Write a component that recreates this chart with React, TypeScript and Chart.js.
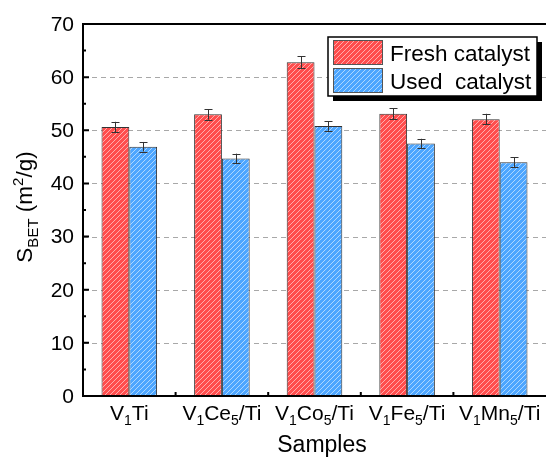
import React, { useEffect, useRef } from "react";
import { Chart, registerables } from "chart.js";

Chart.register(...registerables);

const categories = ["V_{1}Ti", "V_{1}Ce_{5}/Ti", "V_{1}Co_{5}/Ti", "V_{1}Fe_{5}/Ti", "V_{1}Mn_{5}/Ti"];
const freshValues = [50.6, 53.0, 62.8, 53.1, 52.1];
const usedValues = [46.9, 44.7, 50.8, 47.5, 44.0];
const freshErrors = [1.0, 1.0, 1.1, 1.0, 1.0];
const usedErrors = [0.9, 0.9, 0.9, 0.9, 0.9];
const yTicks = [0, 10, 20, 30, 40, 50, 60, 70];
const seriesNames = ["Fresh catalyst", "Used  catalyst"];
const xTitle = "Samples";
const yTitle = "S_{BET} (m^{2}/g)";

const FONT = "'Liberation Sans', Arial, sans-serif";
const RED = "#ff4d4d";
const BLUE = "#4da6ff";

function makePattern(base: string): CanvasPattern | string {
  const c = document.createElement("canvas");
  const s = 5;
  c.width = s;
  c.height = s;
  const g = c.getContext("2d");
  if (!g) return base;
  g.fillStyle = base;
  g.fillRect(0, 0, s, s);
  g.strokeStyle = "rgba(255,255,255,0.55)";
  g.lineWidth = 1;
  g.beginPath();
  g.moveTo(-1, s + 1);
  g.lineTo(s + 1, -1);
  g.moveTo(-1, 1);
  g.lineTo(1, -1);
  g.moveTo(s - 1, s + 1);
  g.lineTo(s + 1, s - 1);
  g.stroke();
  const p = g.createPattern(c, "repeat");
  return p || base;
}

type Seg = { t: string; k: "n" | "sub" | "sup" };
function parseRich(text: string): Seg[] {
  const re = /(_|\^)\{([^}]*)\}|[^_^]+/g;
  const out: Seg[] = [];
  let m: RegExpExecArray | null;
  while ((m = re.exec(text))) {
    if (m[1]) out.push({ t: m[2], k: m[1] === "_" ? "sub" : "sup" });
    else out.push({ t: m[0], k: "n" });
  }
  return out;
}

function drawRich(ctx: CanvasRenderingContext2D, text: string, x: number, y: number, size: number) {
  const segs = parseRich(text);
  const small = Math.round(size * 0.68);
  let total = 0;
  const widths = segs.map((s) => {
    ctx.font = `${s.k === "n" ? size : small}px ${FONT}`;
    const w = ctx.measureText(s.t).width;
    total += w;
    return w;
  });
  let cx = x - total / 2;
  ctx.textAlign = "left";
  ctx.textBaseline = "alphabetic";
  segs.forEach((s, i) => {
    ctx.font = `${s.k === "n" ? size : small}px ${FONT}`;
    const dy = s.k === "sub" ? size * 0.25 : s.k === "sup" ? -size * 0.4 : 0;
    ctx.fillText(s.t, cx, y + dy);
    cx += widths[i];
  });
}

const customPlugin = {
  id: "customDraw",
  beforeDatasetsDraw(chart: any) {
    const ctx = chart.ctx as CanvasRenderingContext2D;
    const { left, right } = chart.chartArea;
    const ys = chart.scales.y;
    ctx.save();
    ctx.strokeStyle = "#a8a8a8";
    ctx.lineWidth = 1;
    ctx.setLineDash([5, 4]);
    yTicks.forEach((v, i) => {
      if (i === 0 || i === yTicks.length - 1) return;
      const py = Math.round(ys.getPixelForValue(v)) + 0.5;
      ctx.beginPath();
      ctx.moveTo(left, py);
      ctx.lineTo(right, py);
      ctx.stroke();
    });
    ctx.restore();
  },
  afterDatasetsDraw(chart: any) {
    const ctx = chart.ctx as CanvasRenderingContext2D;
    const { left, right, top, bottom } = chart.chartArea;
    const ys = chart.scales.y;
    const xs = chart.scales.x;
    ctx.save();

    // error bars
    const errs = [freshErrors, usedErrors];
    const vals = [freshValues, usedValues];
    ctx.strokeStyle = "#333";
    ctx.lineWidth = 1;
    [0, 1].forEach((d) => {
      const meta = chart.getDatasetMeta(d);
      meta.data.forEach((bar: any, i: number) => {
        const x = Math.round(bar.x) + 0.5;
        const y1 = ys.getPixelForValue(vals[d][i] + errs[d][i]);
        const y2 = ys.getPixelForValue(vals[d][i] - errs[d][i]);
        ctx.beginPath();
        ctx.moveTo(x, y1);
        ctx.lineTo(x, y2);
        ctx.moveTo(x - 4, Math.round(y1) + 0.5);
        ctx.lineTo(x + 4, Math.round(y1) + 0.5);
        ctx.moveTo(x - 4, Math.round(y2) + 0.5);
        ctx.lineTo(x + 4, Math.round(y2) + 0.5);
        ctx.stroke();
      });
    });

    // axes frame
    ctx.strokeStyle = "#000";
    ctx.lineWidth = 2;
    ctx.beginPath();
    ctx.moveTo(left, top);
    ctx.lineTo(right, top);
    ctx.moveTo(left, top - 1);
    ctx.lineTo(left, bottom + 1);
    ctx.moveTo(left - 1, bottom);
    ctx.lineTo(right, bottom);
    ctx.stroke();

    // y ticks (inward)
    ctx.lineWidth = 2;
    ctx.beginPath();
    for (let v = 0; v <= 70; v += 5) {
      const py = ys.getPixelForValue(v);
      const len = v % 10 === 0 ? 6 : 3;
      ctx.moveTo(left, py);
      ctx.lineTo(left + len, py);
    }
    // x ticks at category boundaries (inward)
    for (let i = 1; i < categories.length; i++) {
      const px = (xs.getPixelForValue(i - 1) + xs.getPixelForValue(i)) / 2;
      ctx.moveTo(px, bottom);
      ctx.lineTo(px, bottom - 4);
    }
    ctx.stroke();

    // y tick labels
    ctx.fillStyle = "#000";
    ctx.font = `21px ${FONT}`;
    ctx.textAlign = "right";
    ctx.textBaseline = "middle";
    yTicks.forEach((v) => {
      ctx.fillText(String(v), left - 9, ys.getPixelForValue(v) + 1);
    });

    // x tick labels
    categories.forEach((c, i) => {
      drawRich(ctx, c, xs.getPixelForValue(i), bottom + 24, 21);
    });

    // x title
    ctx.font = `23px ${FONT}`;
    ctx.textAlign = "center";
    ctx.textBaseline = "alphabetic";
    ctx.fillText(xTitle, 322, bottom + 56);

    // y title
    ctx.save();
    ctx.translate(32, (top + bottom) / 2 - 3);
    ctx.rotate(-Math.PI / 2);
    drawRich(ctx, yTitle, 0, 0, 22.5);
    ctx.restore();

    // legend
    const lx = 328, ly = 37, lw = 209, lh = 59;
    ctx.fillStyle = "#000";
    ctx.fillRect(lx + 5, ly + 5, lw, lh);
    ctx.fillStyle = "#fff";
    ctx.fillRect(lx, ly, lw, lh);
    ctx.strokeStyle = "#000";
    ctx.lineWidth = 1.5;
    ctx.strokeRect(lx, ly, lw, lh);
    const fills = chart.data.datasets.map((d: any) => d.backgroundColor);
    seriesNames.forEach((name, i) => {
      const sy = ly + 3 + i * 28;
      ctx.fillStyle = fills[i];
      ctx.fillRect(lx + 5, sy, 50, 25);
      ctx.strokeStyle = "#555";
      ctx.lineWidth = 1;
      ctx.strokeRect(lx + 5.5, sy + 0.5, 49, 24);
      ctx.fillStyle = "#000";
      ctx.font = `22.5px ${FONT}`;
      ctx.textAlign = "left";
      ctx.textBaseline = "alphabetic";
      ctx.fillText(name, lx + 62, sy + 21);
    });

    ctx.restore();
  },
};

export default function App() {
  const ref = useRef<HTMLCanvasElement | null>(null);
  useEffect(() => {
    if (!ref.current) return;
    const chart = new Chart(ref.current, {
      type: "bar",
      data: {
        labels: categories,
        datasets: [
          {
            label: seriesNames[0],
            data: freshValues,
            backgroundColor: makePattern(RED) as any,
            borderColor: "#333",
            borderWidth: 1,
            categoryPercentage: 0.6,
            barPercentage: 1.0,
          },
          {
            label: seriesNames[1],
            data: usedValues,
            backgroundColor: makePattern(BLUE) as any,
            borderColor: "#333",
            borderWidth: 1,
            categoryPercentage: 0.6,
            barPercentage: 1.0,
          },
        ],
      },
      options: {
        responsive: false,
        animation: false,
        devicePixelRatio: 1,
        layout: { padding: { left: 83, top: 24, right: 0, bottom: 62 } },
        plugins: { legend: { display: false }, tooltip: { enabled: false } },
        scales: {
          x: { display: false, offset: true },
          y: { display: false, min: 0, max: 70 },
        },
      },
      plugins: [customPlugin],
    });
    return () => chart.destroy();
  }, []);
  return (
    <div style={{ position: "fixed", left: 0, top: 0, width: 546, height: 458, overflow: "hidden", background: "#fff" }}>
      <canvas ref={ref} width={546} height={458} />
    </div>
  );
}
